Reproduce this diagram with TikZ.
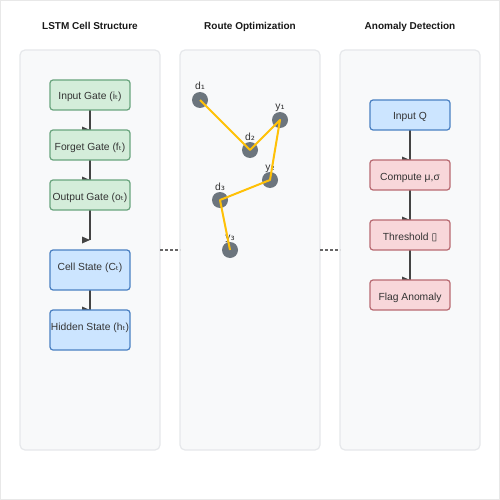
\documentclass[tikz,border=0pt]{standalone}
\usepackage{fontspec}
\setmainfont{Liberation Sans}
\newfontfamily\dv{DejaVu Sans}
\usetikzlibrary{calc}
\pgfdeclarelayer{bg}
\pgfdeclarelayer{mid}
\pgfsetlayers{bg,mid,main}
\definecolor{panelfill}{HTML}{F8F9FA}
\definecolor{paneldraw}{HTML}{E6E8EB}
\definecolor{gfill}{HTML}{D4EDDA}
\definecolor{gdraw}{HTML}{6AA57E}
\definecolor{bfill}{HTML}{CCE5FF}
\definecolor{bdraw}{HTML}{4A80C2}
\definecolor{rfill}{HTML}{F8D7DA}
\definecolor{rdraw}{HTML}{B86A72}
\definecolor{arrowc}{HTML}{444444}
\definecolor{txt}{HTML}{333333}
\definecolor{dotc}{HTML}{6C757D}
\definecolor{routec}{HTML}{FFC107}
\definecolor{framec}{HTML}{E8E8E8}
\newcommand{\sbt}{{\dv ₜ}}
\begin{document}
\begin{tikzpicture}[x=1pt,y=-1pt,
  title/.style={font=\fontsize{10}{12}\selectfont\bfseries, text=black!90, anchor=base},
  panel/.style={draw=paneldraw, line width=1.2pt, fill=panelfill, rounded corners=5pt, minimum width=140pt, minimum height=400pt, inner sep=0pt, outer sep=0pt},
  boxbase/.style={rounded corners=3pt, line width=1.2pt, minimum width=80pt, inner sep=0pt, outer sep=0pt, font=\fontsize{10.3}{12}\selectfont, text=txt},
  short/.style={minimum height=30pt, text height=10pt, text depth=0pt},
  tall/.style={minimum height=40pt, text height=5pt, text depth=5pt},
  gbox/.style={boxbase, short, fill=gfill, draw=gdraw},
  bbox/.style={boxbase, fill=bfill, draw=bdraw},
  rbox/.style={boxbase, short, fill=rfill, draw=rdraw},
  conn/.style={draw=arrowc, line width=2pt},
  dot/.style={circle, fill=dotc, minimum size=16pt, inner sep=0pt},
  dlabel/.style={font=\fontsize{10.3}{12}\selectfont, text=txt, inner sep=0pt},
  route/.style={draw=routec, line width=2pt, line join=round},
  link/.style={draw=black!60, line width=1.2pt, dash pattern=on 3pt off 2pt}
]
\useasboundingbox (0,0) rectangle (500,500);

% titles
\node[title] (t1) at (90,30) {LSTM Cell Structure};
\node[title] (t2) at (250,30) {Route Optimization};
\node[title] (t3) at (410,30) {Anomaly Detection};

% panels
\begin{pgfonlayer}{bg}
\draw[framec, line width=1pt, fill=white] (0.5,0.5) rectangle (499.5,499.5);
\node[panel] (lp) at (90,250) {};
\node[panel] (mp) at (250,250) {};
\node[panel] (rp) at (410,250) {};
\end{pgfonlayer}
\begin{pgfonlayer}{mid}
\draw[link] (lp.east) -- (mp.west);
\draw[link] (mp.east) -- (rp.west);
\end{pgfonlayer}

% LSTM boxes
\node[gbox] (ig) at (90,95) {Input Gate (i\sbt)};
\node[gbox] (fg) at (90,145) {Forget Gate (f\sbt)};
\node[gbox] (og) at (90,195) {Output Gate (o\sbt)};
\node[bbox, tall] (cs) at (90,270) {Cell State (C\sbt)};
\node[bbox, tall] (hs) at (90,330) {Hidden State (h\sbt)};
\coordinate (cin) at (90,240);

% anomaly boxes
\node[bbox, short] (iq) at (410,115) {Input Q};
\node[rbox] (cm) at (410,175) {Compute μ,σ};
\node[rbox] (th) at (410,235) {Threshold {\dv ▯}};
\node[rbox] (fa) at (410,295) {Flag Anomaly};

\newcommand{\tipat}[1]{\fill[arrowc] ($(#1)+(-8,-3.5)$) -- (#1) -- ($(#1)+(-8,3.5)$) -- cycle;}
\begin{pgfonlayer}{mid}
\draw[conn] (ig.south) -- (fg.north); \tipat{fg.north}
\draw[conn] (fg.south) -- (og.north); \tipat{og.north}
\draw[conn] (og.south) -- (cin); \tipat{cin}
\draw[conn] (cs.south) -- (hs.north); \tipat{hs.north}
\draw[conn] (iq.south) -- (cm.north); \tipat{cm.north}
\draw[conn] (cm.south) -- (th.north); \tipat{th.north}
\draw[conn] (th.south) -- (fa.north); \tipat{fa.north}
\end{pgfonlayer}

% route
\node[dot] (n1) at (200,100) {};
\node[dot] (n2) at (250,150) {};
\node[dot] (n3) at (280,120) {};
\node[dot] (n4) at (270,180) {};
\node[dot] (n5) at (220,200) {};
\node[dot] (n6) at (230,250) {};
\node[dlabel, anchor=base] (l1) at (200,90) {d{\dv ₁}};
\node[dlabel, anchor=base] (l2) at (250,140) {d{\dv ₂}};
\node[dlabel, anchor=base] (l3) at (280,110) {y{\dv ₁}};
\node[dlabel, anchor=base] (l4) at (270,170) {y{\dv ₂}};
\node[dlabel, anchor=base] (l5) at (220,190) {d{\dv ₃}};
\node[dlabel, anchor=base] (l6) at (230,240) {y{\dv ₃}};
\draw[route] (n1.center) -- (n2.center) -- (n3.center) -- (n4.center) -- (n5.center) -- (n6.center);
\end{tikzpicture}
\end{document}
